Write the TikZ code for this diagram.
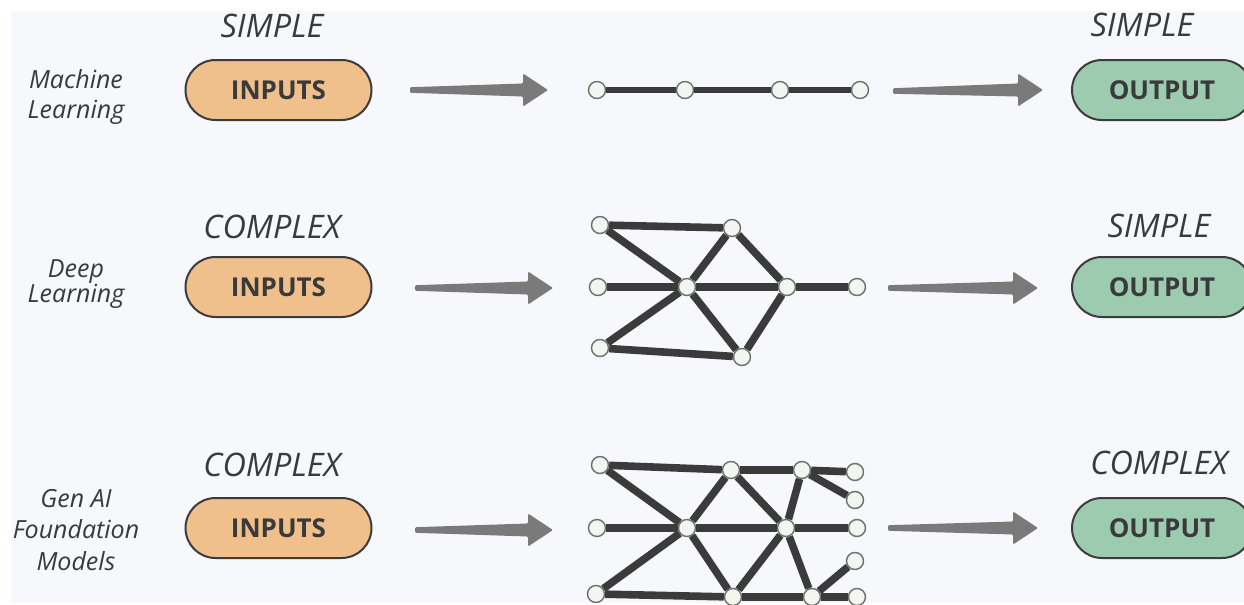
\documentclass[tikz,border=0pt]{standalone}
\usepackage{fontspec}
\setmainfont{Open Sans}
\usetikzlibrary{calc}

\definecolor{pagebg}{HTML}{F7F8FC}
\definecolor{infill}{HTML}{EFC08C}
\definecolor{outfill}{HTML}{9CCBAF}
\definecolor{boxline}{HTML}{3C3C3C}
\definecolor{txt}{HTML}{3A3A3C}
\definecolor{arrowgray}{HTML}{7A7A7A}
\definecolor{edgecol}{HTML}{3B3B3B}
\definecolor{dotfill}{HTML}{F3F5F1}
\definecolor{dotline}{HTML}{6E6E6E}

% tapered block arrow from a tail coordinate to a tip coordinate
\newcommand{\taperarrow}[2]{%
  \fill[arrowgray, rounded corners=0.6pt]
    ($(#1)+(0,-2.8)$) -- ($(#2)+(-25,-6.5)$) -- ($(#2)+(-25,-16.5)$) -- (#2)
    -- ($(#2)+(-25,16.5)$) -- ($(#2)+(-25,6.5)$) -- ($(#1)+(0,2.8)$) -- cycle;}

\begin{document}
\begin{tikzpicture}[x=0.5pt, y=-0.5pt,
  toplabel/.style={inner sep=0pt, text=txt, font=\fontsize{16.2}{18}\selectfont\itshape},
  rowlabel/.style={inner sep=0pt, text=txt, align=center},
  pill/.style={draw=boxline, line width=1pt, rounded corners=15pt,
    minimum height=30pt, inner sep=0pt, text=txt,
    font=\fontsize{13}{15}\selectfont\bfseries},
  inpill/.style={pill, fill=infill, minimum width=93pt},
  outpill/.style={pill, fill=outfill, minimum width=90pt},
  dot/.style={circle, draw=dotline, fill=dotfill, line width=0.7pt,
    minimum size=8.5pt, inner sep=0pt},
  link/.style={draw=edgecol, line width=3.8pt},
]
\useasboundingbox (0,0) rectangle (1244,605);
\fill[white] (0,0) rectangle (1244,605);
\fill[pagebg] (11,11) rectangle (1244,603);

% ---------- row labels ----------
\node[rowlabel, font=\fontsize{12.5}{15}\selectfont\itshape] (lab1) at (76,97) {Machine\\Learning};
\node[rowlabel, font=\fontsize{12.5}{12.8}\selectfont\itshape] (lab2) at (76,284) {Deep\\Learning};
\node[rowlabel, font=\fontsize{12.5}{15.8}\selectfont\itshape] (lab3) at (76,530) {Gen AI\\Foundation\\Models};

% ---------- complexity labels ----------
\node[toplabel] (cin1) at (272,26) {SIMPLE};
\node[toplabel] (cin2) at (272,227) {COMPLEX};
\node[toplabel] (cin3) at (272,465) {COMPLEX};
\node[toplabel] (cout1) at (1142,25) {SIMPLE};
\node[toplabel] (cout2) at (1159,226) {SIMPLE};
\node[toplabel] (cout3) at (1159,463) {COMPLEX};

% ---------- input and output pills ----------
\node[inpill] (in1) at (278.5,90) {INPUTS};
\node[inpill] (in2) at (278.5,287) {INPUTS};
\node[inpill] (in3) at (278.5,528) {INPUTS};
\node[outpill] (out1) at (1162,90) {OUTPUT};
\node[outpill] (out2) at (1162,287) {OUTPUT};
\node[outpill] (out3) at (1162,528) {OUTPUT};

% ---------- block arrows ----------
\coordinate (a1s) at (410,90);  \coordinate (a1e) at (548,90);
\coordinate (b1s) at (893,91);  \coordinate (b1e) at (1043,90);
\coordinate (a2s) at (415,288); \coordinate (a2e) at (553,288);
\coordinate (b2s) at (888,288); \coordinate (b2e) at (1038,288);
\coordinate (a3s) at (415,530); \coordinate (a3e) at (553,530);
\coordinate (b3s) at (888,528); \coordinate (b3e) at (1038,528);
\taperarrow{a1s}{a1e} \taperarrow{b1s}{b1e}
\taperarrow{a2s}{a2e} \taperarrow{b2s}{b2e}
\taperarrow{a3s}{a3e} \taperarrow{b3s}{b3e}

% ---------- network 1: a chain ----------
\node[dot] (p1) at (597,90) {};
\node[dot] (p2) at (685,90) {};
\node[dot] (p3) at (780,90) {};
\node[dot] (p4) at (860,90) {};
\draw[link, line width=3.3pt] (p1) -- (p2) -- (p3) -- (p4);

% ---------- network 2 ----------
\node[dot] (q1) at (600,225) {};
\node[dot] (q2) at (732,228) {};
\node[dot] (q3) at (598,287) {};
\node[dot] (q4) at (687,287) {};
\node[dot] (q5) at (787,287) {};
\node[dot] (q6) at (857,287) {};
\node[dot] (q7) at (600,348) {};
\node[dot] (q8) at (742,357) {};
\draw[link] (q1) -- (q2);
\draw[link] (q1) -- (q4);
\draw[link] (q2) -- (q4);
\draw[link] (q2) -- (q5);
\draw[link] (q3) -- (q4);
\draw[link] (q4) -- (q5);
\draw[link] (q5) -- (q6);
\draw[link] (q7) -- (q4);
\draw[link] (q7) -- (q8);
\draw[link] (q4) -- (q8);
\draw[link] (q8) -- (q5);

% ---------- network 3 ----------
\node[dot] (r1) at (600,465) {};
\node[dot] (r2) at (731,470) {};
\node[dot] (r3) at (802,470) {};
\node[dot] (r4) at (855,472) {};
\node[dot] (r5) at (855,500) {};
\node[dot] (r6) at (597,528) {};
\node[dot] (r7) at (687,528) {};
\node[dot] (r8) at (786,528) {};
\node[dot] (r9) at (857,528) {};
\node[dot] (r10) at (855,561) {};
\node[dot] (r11) at (596,594) {};
\node[dot] (r12) at (733,597) {};
\node[dot] (r13) at (812,597) {};
\node[dot] (r14) at (857,597) {};
\draw[link] (r1) -- (r2);
\draw[link] (r2) -- (r3);
\draw[link] (r3) -- (r4);
\draw[link] (r3) -- (r5);
\draw[link] (r1) -- (r7);
\draw[link] (r2) -- (r7);
\draw[link] (r2) -- (r8);
\draw[link] (r3) -- (r8);
\draw[link] (r6) -- (r7);
\draw[link] (r7) -- (r8);
\draw[link] (r8) -- (r9);
\draw[link] (r11) -- (r7);
\draw[link] (r11) -- (r12);
\draw[link] (r7) -- (r12);
\draw[link] (r12) -- (r8);
\draw[link] (r8) -- (r13);
\draw[link] (r12) -- (r13);
\draw[link] (r13) -- (r14);
\draw[link] (r13) -- (r10);
\end{tikzpicture}
\end{document}
